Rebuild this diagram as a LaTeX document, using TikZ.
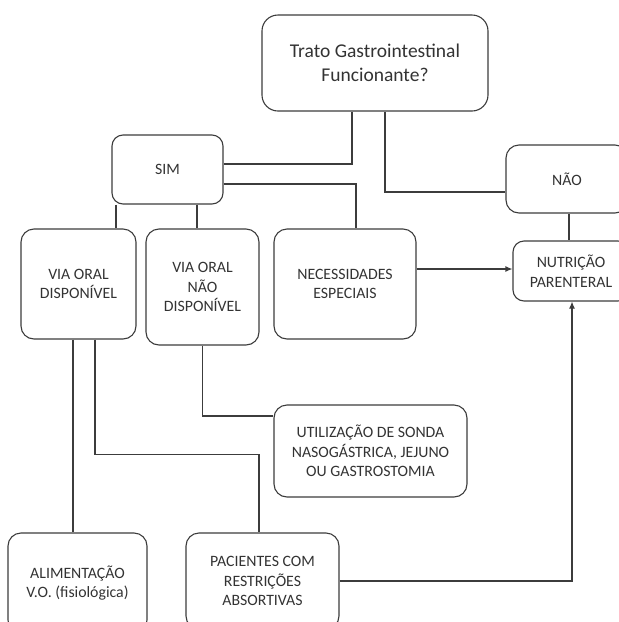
\documentclass[tikz,border=0pt]{standalone}
\usepackage{fontspec}
\setmainfont{Carlito}
\usetikzlibrary{arrows.meta}
\definecolor{inkgray}{HTML}{3C3C3C}
\definecolor{txtgray}{HTML}{333333}

\begin{document}
\begin{tikzpicture}[x=1pt,y=-1pt,>={Latex[length=7pt,width=6pt]},
  every node/.style={font=\fontsize{15.8}{19.5}\selectfont,text=txtgray},
  box/.style={draw=inkgray,line width=1.1pt,rounded corners=13pt,
    align=center,inner sep=0pt},
  link/.style={draw=inkgray,line width=1.1pt}]
  \useasboundingbox (0,0) rectangle (619,622);
  \clip (0,0) rectangle (619,622);
  \node[box,minimum width=226pt,minimum height=96pt,rounded corners=16pt,
    font=\fontsize{19.5}{23.5}\selectfont] (gut) at (375,63)
    {Trato Gastrointestinal\\Funcionante?};
  \node[box,minimum width=111pt,minimum height=69pt,rounded corners=11pt]
    (yes) at (167.5,169.5) {SIM};
  \node[box,minimum width=122pt,minimum height=68pt] (no) at (567,179) {NÃO};
  \node[box,minimum width=115pt,minimum height=110pt] (oral) at (78.5,284)
    {VIA ORAL\\DISPONÍVEL};
  \node[box,minimum width=113pt,minimum height=116pt] (nooral) at (202.5,287)
    {VIA ORAL\\NÃO\\DISPONÍVEL};
  \node[box,minimum width=142pt,minimum height=110pt] (special) at (345,284)
    {NECESSIDADES\\ESPECIAIS};
  \node[box,minimum width=116pt,minimum height=60pt,rounded corners=11pt]
    (parent) at (571,271) {NUTRIÇÃO\\PARENTERAL};
  \node[box,minimum width=193pt,minimum height=92pt] (tube) at (370.5,451)
    {UTILIZAÇÃO DE SONDA\\NASOGÁSTRICA, JEJUNO\\OU GASTROSTOMIA};
  \node[box,minimum width=139pt,minimum height=100pt] (feed) at (77.5,583)
    {ALIMENTAÇÃO\\V.O. (fisiológica)};
  \node[box,minimum width=153pt,minimum height=96pt] (absorb) at (262.5,581)
    {PACIENTES COM\\RESTRIÇÕES\\ABSORTIVAS};
  % ramos da pergunta
  \draw[link] ([xshift=-23pt]gut.south) |- ([yshift=5.5pt]yes.east);
  \draw[link] ([xshift=10pt]gut.south) |- ([yshift=-13pt]no.west);
  \draw[link] ([yshift=-14.5pt]yes.east) -| ([xshift=11pt]special.north);
  \draw[link] ([xshift=-51.5pt]yes.south) -- ([xshift=-51.5pt]yes.south |- oral.north);
  \draw[link] ([xshift=29.5pt]yes.south) -- ([xshift=29.5pt]yes.south |- nooral.north);
  \draw[link] ([xshift=2pt]no.south) -- ([xshift=2pt]no.south |- parent.north);
  \draw[link,->] ([yshift=15pt]special.east) -- ([yshift=15pt]special.east -| parent.west);
  % via oral
  \coordinate (absorbin) at ([xshift=-3.5pt]absorb.north);
  \draw[link] ([xshift=-5.5pt]oral.south) -- ([xshift=-5.5pt]oral.south |- feed.north);
  \draw[link] ([xshift=16.5pt]oral.south) -- ++(0,115) -| (absorbin);
  \draw[link] (nooral.south) |- ([yshift=35pt]tube.west);
  \draw[link,->] (absorb.east) -| ([xshift=1pt]parent.south);
\end{tikzpicture}
\end{document}
